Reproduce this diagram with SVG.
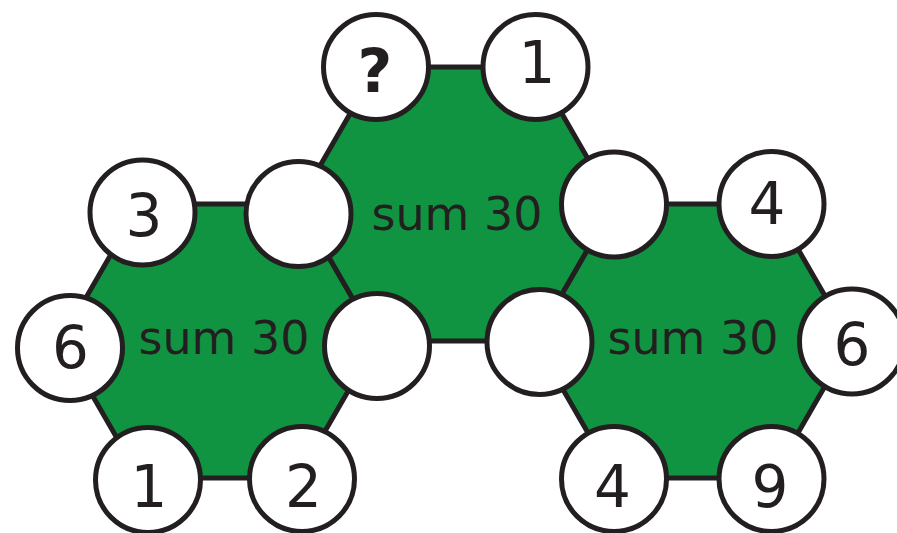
<svg xmlns="http://www.w3.org/2000/svg" width="897" height="533" viewBox="0 0 897 533">
<style>
.hex{fill:#109441;stroke:#231f20;stroke-width:5;stroke-linejoin:miter}
.c{fill:#fff;stroke:#231f20;stroke-width:5}
.n{font-family:"DejaVu Sans",Verdana,sans-serif;font-size:58px;fill:#231f20;text-anchor:middle}
.q{font-family:"DejaVu Sans",Verdana,sans-serif;font-size:60px;font-weight:bold;fill:#231f20;text-anchor:middle}
.s{font-family:"DejaVu Sans",Verdana,sans-serif;font-size:46px;fill:#231f20;text-anchor:middle}
</style>
<rect width="897" height="533" fill="#fff"/>
<g id="connectors">
<polygon id="hex-top" class="hex" points="377,67 535,67 614,204 535,341 377,341 298,204"/>
<polygon id="hex-left" class="hex" points="140,204 298,204 377,341 298,478 140,478 61,341"/>
<polygon id="hex-right" class="hex" points="614,204 772,204 851,341 772,478 614,478 535,341"/>
</g>
<g id="label-top"><text class="s" x="457" y="230">sum 30</text></g>
<g id="label-left"><text class="s" x="224" y="354">sum 30</text></g>
<g id="label-right"><text class="s" x="693" y="354">sum 30</text></g>
<g id="n-q"><circle class="c" cx="376" cy="67" r="52.5"/><text class="q" x="375" y="92">?</text></g>
<g id="n-top1"><circle class="c" cx="535.5" cy="67" r="52.5"/><text class="n" x="537" y="83">1</text></g>
<g id="n-blank1"><circle class="c" cx="298.5" cy="214" r="52.5"/></g>
<g id="n-blank2"><circle class="c" cx="614" cy="204.5" r="52.5"/></g>
<g id="n-blank3"><circle class="c" cx="377" cy="346" r="52.5"/></g>
<g id="n-blank4"><circle class="c" cx="539.5" cy="342" r="52.5"/></g>
<g id="n-3"><circle class="c" cx="142.5" cy="212.5" r="52.5"/><text class="n" x="144" y="236">3</text></g>
<g id="n-6l"><circle class="c" cx="70" cy="348" r="52.5"/><text class="n" x="70.5" y="368">6</text></g>
<g id="n-1b"><circle class="c" cx="148" cy="480" r="52.5"/><text class="n" x="149" y="507">1</text></g>
<g id="n-2"><circle class="c" cx="302" cy="479" r="52.5"/><text class="n" x="303.5" y="507">2</text></g>
<g id="n-4t"><circle class="c" cx="771.5" cy="204" r="52.5"/><text class="n" x="767" y="224">4</text></g>
<g id="n-6r"><circle class="c" cx="852" cy="341.5" r="52.5"/><text class="n" x="852" y="365">6</text></g>
<g id="n-4b"><circle class="c" cx="614" cy="479" r="52.5"/><text class="n" x="612.5" y="507">4</text></g>
<g id="n-9"><circle class="c" cx="771.5" cy="479" r="52.5"/><text class="n" x="770" y="507">9</text></g>
</svg>
